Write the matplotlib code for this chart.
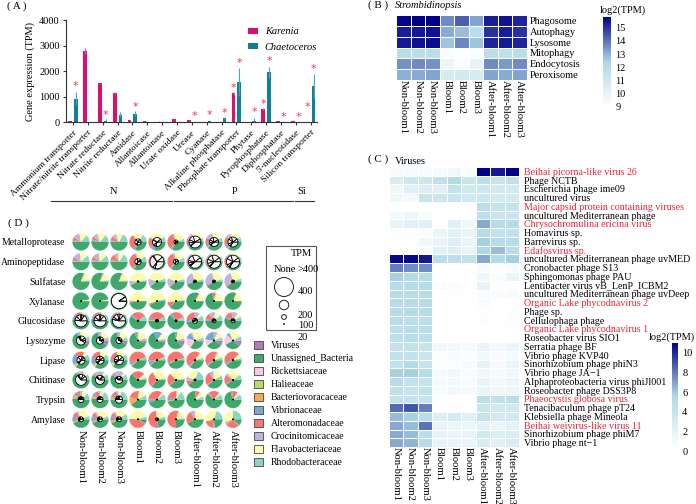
import matplotlib
matplotlib.use('Agg')
import matplotlib.pyplot as plt
import numpy as np
from matplotlib.colors import LinearSegmentedColormap
from matplotlib.patches import Patch, Circle, Rectangle

plt.rcParams['font.family'] = ['Liberation Serif', 'DejaVu Sans']
plt.rcParams['font.size'] = 7.5

W, H = 696, 504

# panel A
genes = ['Ammonium transporter', 'Nitrate/nitrite transporter', 'Nitrate reductase', 'Nitrite reductase',
         'Amidase', 'Allantoicase', 'Allantoinase', 'Urate oxidase', 'Urease', 'Cyanase',
         'Alkaline phosphatase', 'Phosphate transporter', 'Phytase', 'Pyrophosphatase',
         'Diphosphatase', "5'-nucleotidase", 'Silicon transporter']
karenia = [60, 2800, 1520, 1130, 80, 40, 30, 120, 80, 5, 5, 1130, 5, 520, 60, 70, 5]
karenia_err = [10, 120, 30, 40, 10, 5, 3, 20, 15, 0, 0, 60, 0, 40, 8, 8, 0]
chaeto = [930, 0, 70, 300, 340, 0, 0, 0, 5, 60, 150, 1570, 70, 1950, 0, 0, 1420]
chaeto_err = [250, 0, 50, 90, 90, 0, 0, 0, 0, 10, 20, 550, 90, 220, 0, 0, 470]
# gene index, series (0 Karenia, 1 Chaetoceros), height of the star
star_gene = [0, 2, 4, 8, 9, 10, 11, 11, 12, 13, 13, 14, 15, 16, 16]
star_series = [1, 1, 1, 1, 1, 1, 0, 1, 1, 0, 1, 1, 1, 0, 1]
star_height = [1425, 288, 588, 248, 275, 380, 1360, 2300, 392, 732, 2380, 222, 222, 588, 2078]

# panel B
stages = ['Non-bloom1', 'Non-bloom2', 'Non-bloom3', 'Bloom1', 'Bloom2', 'Bloom3',
          'After-bloom1', 'After-bloom2', 'After-bloom3']
pathways = ['Phagosome', 'Autophagy', 'Lysosome', 'Mitophagy', 'Endocytosis', 'Peroxisome']
pathway_values = [
    [15.7, 15.8, 15.8, 13.6, 14.3, 13.2, 15.3, 15.5, 15.2],
    [15.3, 15.4, 15.5, 13.1, 12.8, 11.9, 15.0, 15.3, 15.0],
    [15.4, 15.5, 15.6, 12.7, 13.7, 12.7, 15.2, 15.4, 15.2],
    [11.9, 11.9, 11.8, 9.3, 9.0, 9.2, 11.8, 11.7, 11.8],
    [13.5, 13.6, 13.5, 9.8, 9.2, 10.0, 13.6, 13.4, 13.6],
    [13.0, 13.1, 13.2, 10.8, 10.9, 10.7, 13.2, 13.1, 13.2],
]

# panel C
viruses = ['Beihai picorna-like virus 26', 'Phage NCTB', 'Escherichia phage ime09', 'uncultured virus',
           'Major capsid protein containing viruses', 'uncultured Mediterranean phage',
           'Chrysochromulina ericina virus', 'Homavirus sp.', 'Barrevirus sp.', 'Edafosvirus sp.',
           'uncultured Mediterranean phage uvMED', 'Cronobacter phage S13', 'Sphingomonas phage PAU',
           'Lentibacter virus vB_LenP_ICBM2', 'uncultured Mediterranean phage uvDeep',
           'Organic Lake phycodnavirus 2', 'Phage sp.', 'Cellulophaga phage', 'Organic Lake phycodnavirus 1',
           'Roseobacter virus SIO1', 'Serratia phage BF', 'Vibrio phage KVP40', 'Sinorhizobium phage phiN3',
           'Vibrio phage JA\u22121', 'Alphaproteobacteria virus phiJl001', 'Roseobacter phage DSS3P8',
           'Phaeocystis globosa virus', 'Tenacibaculum phage pT24', 'Klebsiella phage Mineola',
           'Beihai weivirus-like virus 11', 'Sinorhizobium phage phiM7', 'Vibrio phage nt\u22121']
red_viruses = ['Beihai picorna-like virus 26', 'Major capsid protein containing viruses',
               'Chrysochromulina ericina virus', 'Edafosvirus sp.', 'Organic Lake phycodnavirus 2',
               'Organic Lake phycodnavirus 1', 'Phaeocystis globosa virus', 'Beihai weivirus-like virus 11']
virus_values = [
    [0.5, 0.5, 0.5, 0.7, 1.0, 0.3, 10.6, 10.0, 10.6],
    [2.5, 3.2, 3.2, 4.0, 5.0, 3.5, 4.5, 3.8, 4.0],
    [1.0, 2.0, 2.3, 2.0, 4.0, 3.0, 3.2, 3.0, 3.0],
    [1.0, 0.8, 3.6, 3.3, 3.6, 3.0, 3.2, 3.0, 3.0],
    [0, 0, 0, 0, 0, 0, 4.5, 3.8, 3.8],
    [0.8, 1.2, 0.5, 0, 0, 0, 4.5, 3.5, 3.6],
    [1.5, 2.0, 2.0, 0.1, 2.0, 1.0, 6.5, 4.7, 4.8],
    [0.2, 0.2, 0.4, 1.4, 2.0, 1.5, 4.8, 4.0, 4.0],
    [0.1, 0.1, 1.0, 1.5, 2.2, 1.4, 5.5, 4.8, 4.6],
    [0.1, 0.1, 0.6, 2.0, 2.2, 1.5, 5.3, 6.0, 4.6],
    [10.4, 10.4, 10.0, 4.5, 4.3, 4.0, 6.5, 5.0, 5.5],
    [7.5, 7.2, 7.2, 0, 0, 0, 0.6, 0.2, 0.5],
    [5.5, 5.0, 4.8, 0, 0, 0, 1.0, 0.4, 1.4],
    [4.7, 4.7, 4.7, 0.4, 0.3, 0.1, 1.6, 0.1, 0.1],
    [4.6, 4.6, 4.6, 0, 0.1, 0.1, 0.4, 0.4, 0.5],
    [4.6, 4.7, 4.6, 0, 0, 0, 0.4, 0, 0.1],
    [4.7, 4.9, 4.6, 0, 0, 0, 0.1, 0, 0.2],
    [4.6, 4.5, 4.4, 0, 0, 0, 0.2, 0, 0.2],
    [4.3, 4.6, 4.6, 0, 0, 0, 0, 0, 0.1],
    [4.3, 4.6, 4.5, 0, 0, 0, 0, 0, 0],
    [3.9, 4.0, 3.7, 1.0, 0.9, 0.7, 1.4, 0.9, 1.4],
    [3.9, 3.9, 3.5, 0.2, 0.6, 0.3, 0.8, 0.5, 0.7],
    [4.0, 5.0, 3.8, 0.2, 0.3, 0.5, 1.6, 0.5, 1.3],
    [5.5, 5.5, 4.8, 0.7, 1.0, 0.4, 1.0, 0.6, 1.0],
    [4.6, 4.0, 3.8, 0.7, 0.9, 0.6, 1.4, 0.8, 1.2],
    [4.2, 3.7, 4.0, 0.6, 0.9, 0.7, 1.5, 1.0, 1.3],
    [3.9, 3.8, 3.7, 0, 0, 0, 4.5, 4.0, 4.5],
    [8.0, 8.5, 7.5, 0, 0.1, 0, 3.4, 3.0, 3.0],
    [6.0, 5.5, 4.8, 2.4, 2.8, 2.0, 3.8, 3.0, 3.0],
    [6.5, 6.0, 7.8, 1.5, 1.3, 1.3, 1.8, 1.3, 1.8],
    [6.5, 6.0, 4.5, 1.6, 1.4, 1.5, 3.0, 2.4, 2.6],
    [6.5, 6.2, 4.8, 1.6, 1.5, 1.5, 2.5, 2.0, 2.5],
]

# panel D
enzymes = ['Metalloprotease', 'Aminopeptidase', 'Sulfatase', 'Xylanase', 'Glucosidase', 'Lysozyme',
           'Lipase', 'Chitinase', 'Trypsin', 'Amylase']
families = ['Viruses', 'Unassigned_Bacteria', 'Rickettsiaceae', 'Halieaceae', 'Bacteriovoracaceae',
            'Vibrionaceae', 'Alteromonadaceae', 'Crocinitomicaceae', 'Flavobacteriaceae', 'Rhodobacteraceae']
family_colors = ['#B27BB9', '#3FA96C', '#F9CBE2', '#B4DC6C', '#F8AA50', '#78A9D6', '#F8766D', '#BDB5DC',
                 '#FBFBA9', '#8AD6C4']
metalloprotease = [[0, 50, 0, 0, 2, 2, 6, 12, 14, 14], [0, 52, 0, 0, 1, 2, 6, 9, 16, 14], [0, 50, 0, 0, 1, 2, 8, 8, 14, 17],
                   [0, 30, 0, 0, 0, 5, 30, 0, 20, 15], [0, 30, 0, 0, 0, 8, 20, 2, 30, 10], [0, 32, 0, 0, 0, 4, 32, 4, 22, 6],
                   [0, 38, 0, 0, 2, 8, 8, 14, 22, 8], [0, 38, 0, 0, 2, 8, 10, 14, 20, 8], [0, 34, 0, 0, 2, 8, 16, 10, 20, 10]]
aminopeptidase = [[0, 50, 0, 0, 1, 2, 6, 14, 15, 12], [0, 50, 0, 0, 1, 2, 7, 13, 15, 12], [0, 50, 0, 0, 1, 2, 12, 8, 12, 15],
                  [0, 32, 0, 0, 0, 4, 34, 2, 18, 10], [0, 30, 0, 0, 0, 5, 30, 2, 22, 11], [0, 34, 0, 0, 0, 3, 32, 4, 20, 7],
                  [0, 38, 0, 0, 3, 6, 6, 16, 21, 10], [0, 36, 0, 0, 2, 8, 10, 14, 20, 10], [0, 34, 0, 0, 2, 6, 16, 12, 20, 10]]
sulfatase = [[0, 80, 0, 0, 0, 0, 1, 2, 15, 2], [0, 80, 0, 0, 0, 0, 1, 2, 15, 2], [0, 80, 0, 0, 0, 0, 1, 2, 15, 2],
             [0, 42, 0, 0, 0, 0, 1, 8, 47, 2], [0, 40, 0, 0, 0, 0, 0, 15, 40, 5], [0, 38, 0, 0, 0, 0, 2, 16, 40, 4],
             [0, 44, 0, 0, 0, 1, 1, 24, 26, 4], [0, 40, 0, 0, 0, 1, 3, 28, 24, 4], [0, 38, 0, 0, 0, 0, 3, 30, 24, 5]]
xylanase = [[0, 97, 0, 0, 0, 0, 0, 0, 3, 0], [0, 97, 0, 0, 0, 0, 0, 0, 3, 0], [0, 91, 0, 0, 0, 0, 0, 0, 9, 0],
            [0, 47, 0, 0, 0, 0, 3, 0, 50, 0], [0, 42, 0, 0, 0, 0, 3, 1, 50, 4], [0, 38, 0, 0, 0, 0, 10, 0, 50, 2],
            [0, 82, 0, 0, 0, 0, 2, 0, 16, 0], [0, 72, 0, 0, 0, 0, 6, 2, 20, 0], [0, 80, 0, 0, 0, 0, 2, 0, 18, 0]]
glucosidase = [[0, 52, 0, 0, 0, 10, 12, 4, 6, 16], [0, 52, 0, 0, 0, 8, 14, 4, 8, 14], [0, 54, 0, 0, 0, 6, 12, 6, 8, 14],
               [0, 58, 0, 0, 0, 5, 27, 0, 0, 10], [0, 50, 0, 0, 2, 5, 35, 0, 0, 8], [0, 62, 0, 0, 0, 5, 25, 4, 0, 4],
               [0, 48, 0, 0, 0, 4, 22, 10, 6, 10], [0, 50, 0, 0, 0, 3, 12, 12, 12, 11], [0, 55, 0, 0, 0, 3, 14, 12, 8, 8]]
lysozyme = [[8, 58, 0, 0, 0, 4, 0, 4, 18, 8], [10, 60, 0, 0, 0, 4, 0, 4, 16, 6], [8, 62, 0, 0, 0, 4, 0, 4, 16, 6],
            [6, 62, 0, 0, 0, 6, 2, 0, 20, 4], [5, 65, 0, 0, 0, 15, 0, 0, 12, 3], [12, 62, 0, 0, 0, 4, 0, 0, 18, 4],
            [4, 30, 20, 0, 0, 12, 0, 4, 25, 5], [10, 30, 12, 0, 0, 22, 2, 6, 12, 6], [12, 30, 20, 0, 0, 6, 0, 0, 24, 8]]
lipase = [[0, 35, 0, 4, 2, 22, 18, 0, 8, 11], [0, 35, 0, 4, 2, 14, 20, 0, 14, 11], [0, 38, 0, 5, 2, 8, 18, 0, 18, 11],
          [0, 38, 0, 0, 2, 6, 48, 0, 0, 6], [0, 40, 0, 0, 1, 8, 45, 0, 1, 5], [0, 42, 0, 0, 1, 3, 50, 0, 0, 4],
          [0, 35, 0, 0, 1, 3, 45, 2, 10, 4], [0, 38, 0, 0, 1, 3, 38, 3, 12, 5], [0, 40, 0, 0, 1, 4, 42, 1, 8, 4]]
chitinase = [[0, 65, 0, 0, 0, 3, 1, 12, 8, 11], [0, 60, 0, 0, 0, 2, 3, 18, 6, 11], [0, 60, 0, 0, 0, 2, 4, 18, 5, 11],
             [0, 62, 0, 0, 0, 0, 26, 0, 8, 4], [0, 36, 0, 0, 0, 1, 30, 0, 30, 3], [0, 38, 0, 0, 0, 1, 24, 0, 35, 2],
             [0, 40, 0, 0, 0, 0, 8, 8, 25, 19], [0, 38, 0, 0, 0, 2, 26, 8, 18, 8], [0, 40, 0, 0, 0, 2, 18, 4, 26, 10]]
trypsin = [[0, 52, 0, 0, 8, 8, 6, 4, 10, 12], [0, 52, 0, 0, 6, 6, 8, 4, 8, 16], [0, 50, 0, 0, 6, 6, 8, 4, 6, 20],
           [0, 40, 0, 0, 15, 0, 22, 0, 15, 8], [0, 44, 0, 0, 0, 6, 35, 0, 5, 10], [0, 46, 0, 0, 2, 6, 22, 2, 6, 16],
           [0, 76, 0, 0, 0, 0, 8, 1, 10, 5], [0, 62, 0, 0, 1, 2, 20, 2, 3, 10], [0, 70, 0, 0, 0, 4, 10, 1, 5, 10]]
amylase = [[0, 42, 0, 0, 4, 10, 10, 4, 24, 6], [0, 42, 0, 0, 4, 10, 8, 4, 26, 6], [0, 42, 0, 0, 6, 8, 8, 4, 22, 10],
           [0, 8, 0, 0, 0, 1, 42, 0, 44, 5], [0, 22, 0, 0, 0, 3, 48, 0, 22, 5], [0, 25, 0, 0, 0, 0, 55, 0, 18, 2],
           [0, 42, 0, 0, 0, 0, 25, 8, 25, 0], [0, 24, 0, 0, 0, 2, 20, 0, 34, 20], [0, 12, 0, 0, 0, 2, 26, 5, 30, 25]]
compositions = [metalloprotease, aminopeptidase, sulfatase, xylanase, glucosidase, lysozyme, lipase, chitinase,
                trypsin, amylase]
# TPM per enzyme and stage, 0 stands for None (>400)
tpm = [
    [0, 0, 0, 130, 190, 85, 250, 190, 210],
    [0, 0, 0, 130, 295, 105, 275, 275, 275],
    [0, 0, 0, 30, 30, 30, 60, 60, 60],
    [20, 20, 320, 20, 20, 20, 20, 20, 20],
    [255, 255, 275, 30, 60, 40, 105, 85, 85],
    [190, 150, 125, 20, 20, 20, 20, 20, 20],
    [170, 170, 190, 20, 20, 20, 20, 20, 20],
    [230, 190, 150, 20, 20, 20, 40, 20, 20],
    [125, 125, 150, 20, 20, 20, 20, 20, 20],
    [105, 105, 105, 20, 60, 20, 20, 20, 20],
]
size_values = [400, 200, 100, 20]

fig = plt.figure(figsize=(W / 100, H / 100), dpi=100)


def px_axes(x0, y0, x1, y1):
    return fig.add_axes([x0 / W, 1 - y1 / H, (x1 - x0) / W, (y1 - y0) / H])


def heat_cmap():
    return LinearSegmentedColormap.from_list('wbn', ['white', 'lightblue', '#00008B'])


def heatmap(ax, values, vmin, vmax):
    values = np.array(values)
    mesh = ax.pcolormesh(values, cmap=heat_cmap(), vmin=vmin, vmax=vmax, edgecolors='white', linewidth=0.5)
    ax.invert_yaxis()
    ax.set_xticks(np.arange(len(stages)) + 0.5)
    ax.set_xticklabels(stages, rotation=270, ha='center', va='top', fontsize=7.6)
    ax.set_yticks(np.arange(values.shape[0]) + 0.5)
    ax.yaxis.tick_right()
    ax.tick_params(length=0, pad=2)
    ax.tick_params(axis='x', pad=0)
    for s in ax.spines.values():
        s.set_visible(False)
    return mesh


def colorbar(mesh, cax, ticks):
    cb = fig.colorbar(mesh, cax=cax, ticks=ticks)
    cb.outline.set_visible(False)
    cb.ax.tick_params(length=0, pad=3, labelsize=7.5)
    return cb


# page level axes for loose text and rules, in pixels
page = fig.add_axes([0, 0, 1, 1], zorder=5)
page.set_xlim(0, W)
page.set_ylim(H, 0)
page.axis('off')
page.patch.set_alpha(0)

# A
axA = px_axes(66, 20, 317, 122.3)
x = np.arange(len(genes))
offset = 0.19
axA.bar(x - offset, karenia, 0.25, color='#D9116E', yerr=karenia_err,
        error_kw=dict(ecolor='#E8609E', lw=0.8, capsize=0), label='Karenia')
axA.bar(x + offset, chaeto, 0.25, color='#0F7F9C', yerr=chaeto_err,
        error_kw=dict(ecolor='#4FA6BC', lw=0.8, capsize=0), label='Chaetoceros')
for g, s, h in zip(star_gene, star_series, star_height):
    axA.text(g + (offset if s else -offset), h, '*', color='#EA3A4E', fontsize=8, ha='center', va='center',
             family='DejaVu Sans')
axA.set_xlim(-0.47, 16.42)
axA.set_ylim(0, 4000)
axA.set_yticks([0, 1000, 2000, 3000, 4000])
axA.set_xticks(x)
axA.set_xticklabels(genes, rotation=45, ha='right', rotation_mode='anchor', fontsize=6.8)
axA.set_ylabel('Gene expression (TPM)', labelpad=3)
axA.tick_params(length=2.5, width=0.8, color='#333333', pad=2)
axA.spines[['top', 'right']].set_visible(False)
axA.spines[['left', 'bottom']].set_color('#333333')
axA.legend(loc='upper left', bbox_to_anchor=(0.705, 0.98), frameon=False, handlelength=0.95, handleheight=0.5,
           labelspacing=0.65, prop=dict(style='italic', size=7.5), borderpad=0, handletextpad=0.65)

page.text(7, 6, '( A )', va='center', fontsize=8)
for label, lx, ly, x0, x1 in [('N', 113, 192, 51, 172), ('P', 235, 192, 174, 293), ('Si', 302, 192, 295, 314)]:
    page.text(lx, ly, label, ha='center', va='center')
    page.plot([x0, x1], [201, 201], color='#333333', lw=0.8)

# B
axB = px_axes(396, 15, 527, 80)
meshB = heatmap(axB, pathway_values, 9, 15.8)
axB.set_yticklabels(pathways)
caxB = px_axes(603, 17, 611, 107)
colorbar(meshB, caxB, [9, 10, 11, 12, 13, 14, 15])
page.text(368, 5, '( B )', va='center', fontsize=8)
page.text(395, 5, 'Strombidinopsis', va='center', style='italic')
page.text(623, 10, 'log2(TPM)', ha='center', va='center')

# C
axC = px_axes(389, 167, 519, 447)
meshC = heatmap(axC, virus_values, 0, 10.6)
axC.set_yticklabels(viruses, fontsize=7.2)
axC.tick_params(axis='y', pad=3.5)
for lab in axC.get_yticklabels():
    if lab.get_text() in red_viruses:
        lab.set_color('#EE2436')
caxC = px_axes(672, 343, 678, 448)
cbC = colorbar(meshC, caxC, [0, 2, 4, 6, 8, 10])
for lab in cbC.ax.get_yticklabels():
    lab.set_va('top')
page.text(368, 159, '( C )', va='center', fontsize=8)
page.text(395, 162, 'Viruses', va='center')
page.text(672, 337, 'log2(TPM)', ha='center', va='center')

# D, one axes in pixel units so the pies stay round
col_step, row_step = 19.0, 19.7
axD = px_axes(71, 232, 243, 429.5)
for r, enzyme_rows in enumerate(compositions):
    for c, comp in enumerate(enzyme_rows):
        cx, cy = 10 + c * col_step, 10 + r * row_step
        axD.pie(comp, colors=family_colors, radius=8.6, center=(cx, cy), startangle=0, counterclock=True,
                frame=True, wedgeprops=dict(linewidth=0))
        if tpm[r][c] > 0:
            axD.pie(comp, colors=['white'] * len(comp), radius=tpm[r][c] / 400 * 9.5, center=(cx, cy),
                    startangle=0, counterclock=True, frame=True,
                    wedgeprops=dict(edgecolor='black', linewidth=0.6))
axD.set_xlim(0, 172)
axD.set_ylim(197.5, 0)
axD.set_aspect('equal')
axD.set_xticks([10 + c * col_step for c in range(len(stages))])
axD.set_xticklabels(stages, rotation=270, ha='center', va='top', fontsize=7.6)
axD.set_yticks([10 + r * row_step for r in range(len(enzymes))])
axD.set_yticklabels(enzymes, fontsize=7.0)
axD.tick_params(length=0, pad=4)
axD.tick_params(axis='x', pad=0)
for s in axD.spines.values():
    s.set_visible(False)
page.text(8, 223, '( D )', va='center', fontsize=8)

# size key
page.add_patch(Rectangle((266, 246), 50, 84, fill=False, edgecolor='#555555', lw=0.8))
page.text(301, 254, 'TPM', ha='center', va='center')
page.text(274, 269, 'None', va='center')
page.text(298, 269, '>400', va='center')
for v, cy, ly in zip(size_values, [287, 305, 317, 324], [292, 315, 326, 337]):
    page.add_patch(Circle((284, cy), v / 400 * 9.5, fill=False, edgecolor='#222222', lw=0.7))
    page.text(298, ly, str(v), va='center')

handles = [Patch(facecolor=col, edgecolor='#444444', linewidth=0.6) for col in family_colors]
fig.legend(handles, families, loc='upper left', bbox_to_anchor=(254 / W, 1 - 341 / H), frameon=False, fontsize=7,
           handlelength=0.9, handleheight=0.9, labelspacing=0.37, borderpad=0, borderaxespad=0, handletextpad=0.8)

fig.savefig('out.png', dpi=100)
